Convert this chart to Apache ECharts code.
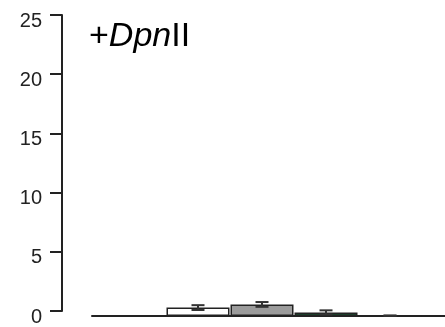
<!DOCTYPE html>
<html><head><meta charset="utf-8">
<script src="https://cdn.jsdelivr.net/npm/echarts@6/dist/echarts.min.js"></script>
<style>html,body{margin:0;padding:0;background:#fff}#c{width:445px;height:327px}</style>
</head><body><div id="c"></div>
<script>
const yTicks = [0, 5, 10, 15, 20, 25];
const positions = [1, 2, 3, 4];
const values = [0.7, 0.96, 0.3, 0.03];
const errors = [0.2, 0.2, 0.17, 0.01];
const colors = ['#ffffff', '#9b9b9b', '#145a32', '#333333'];

const chart = echarts.init(document.getElementById('c'));
const font = 'Liberation Sans, Arial, sans-serif';
chart.setOption({
  animation: false,
  title: {
    text: '+{i|Dpn}II', left: 84, top: 15,
    textStyle: { fontFamily: font, fontSize: 34, fontWeight: 'normal', color: '#000',
      rich: { i: { fontStyle: 'italic', fontFamily: font, fontSize: 34, color: '#000' } } }
  },
  grid: [
    { left: 62, top: 15, bottom: 11, width: 1 },
    { left: 92, top: 15, bottom: 11, right: 0 }
  ],
  xAxis: [
    { gridIndex: 0, type: 'value', show: false },
    { gridIndex: 1, type: 'value', min: -0.656, max: 4.859, splitLine: { show: false },
      axisTick: { show: false }, axisLabel: { show: false },
      axisLine: { lineStyle: { color: '#222', width: 2 } } }
  ],
  yAxis: [
    { gridIndex: 0, type: 'value', min: 0, max: 25, interval: 5,
      axisLine: { show: true, lineStyle: { color: '#222', width: 2 } },
      axisTick: { show: true, length: 12, lineStyle: { color: '#222', width: 2 } },
      splitLine: { show: false },
      axisLabel: { fontFamily: font, fontSize: 20, color: '#222', margin: 20,
        verticalAlign: 'top', lineHeight: 12,
        formatter: v => yTicks.includes(v) ? String(v) : '' } },
    { gridIndex: 1, type: 'value', min: 0, max: 25, show: false, splitLine: { show: false } }
  ],
  series: [
    { type: 'bar', xAxisIndex: 1, yAxisIndex: 1, barWidth: 63,
      data: positions.map((p, i) => ({ value: [p, values[i]],
        itemStyle: { color: colors[i], borderColor: '#222', borderWidth: 1.5 } })) },
    { type: 'custom', xAxisIndex: 1, yAxisIndex: 1,
      data: positions.map((p, i) => [p, values[i] - errors[i], values[i] + errors[i]]),
      renderItem: (params, api) => {
        const lo = api.coord([api.value(0), api.value(1)]);
        const hi = api.coord([api.value(0), api.value(2)]);
        const w = 6.5;
        const st = { stroke: '#333', lineWidth: 2, fill: null };
        return { type: 'group', children: [
          { type: 'line', shape: { x1: lo[0], y1: lo[1], x2: hi[0], y2: hi[1] }, style: st },
          { type: 'line', shape: { x1: lo[0] - w, y1: lo[1], x2: lo[0] + w, y2: lo[1] }, style: st },
          { type: 'line', shape: { x1: hi[0] - w, y1: hi[1], x2: hi[0] + w, y2: hi[1] }, style: st }
        ] };
      }, z: 5 }
  ]
});
</script></body></html>
